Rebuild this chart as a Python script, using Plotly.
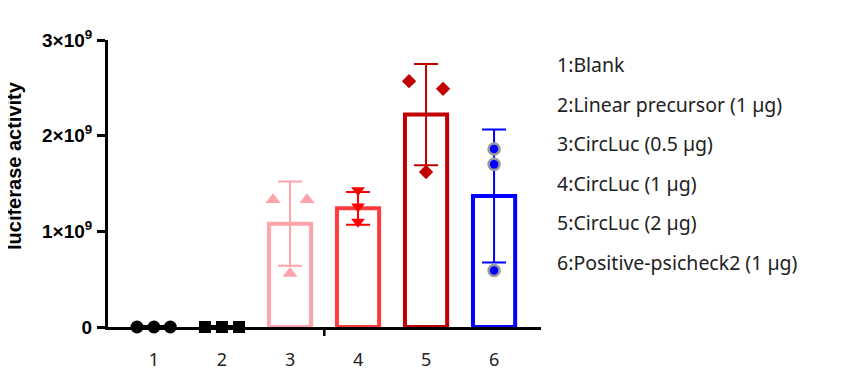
import plotly.graph_objects as go

# ---- data ----
groups = [1, 2, 3, 4, 5, 6]
group_labels = ["1", "2", "3", "4", "5", "6"]
means = [0, 0, 1.08e9, 1.24e9, 2.22e9, 1.37e9]
sds = [0, 0, 0.44e9, 0.17e9, 0.53e9, 0.695e9]
rep_g1 = [0, 0, 0]
rep_g2 = [0, 0, 0]
rep_g3 = [1.33e9, 1.33e9, 0.56e9]
rep_g4 = [1.43e9, 1.26e9, 1.10e9]
rep_g5 = [2.57e9, 2.49e9, 1.62e9]
rep_g6 = [1.86e9, 1.70e9, 0.59e9]
legend_lines = ["1:Blank", "2:Linear precursor (1 µg)", "3:CircLuc (0.5 µg)",
                "4:CircLuc (1 µg)", "5:CircLuc (2 µg)", "6:Positive-psicheck2 (1 µg)"]
ytick_vals = [0, 1e9, 2e9, 3e9]
ytick_text = ["0", "1×10<sup>9</sup>", "2×10<sup>9</sup>", "3×10<sup>9</sup>"]

# ---- style ----
colors = ["#000000", "#000000", "#FFA3AA", "#FF3B3B", "#C00000", "#0000FF"]
point_colors = ["#000000", "#000000", "#FFA3AA", "#FF0000", "#C00000", "#0000FF"]
symbols = ["circle", "square", "triangle-up", "triangle-down", "diamond", "circle"]
sizes = [13, 12, 13, 12, 11, 11]
line_colors = ["#000000", "#000000", "#FFA3AA", "#FF0000", "#C00000", "#999999"]
line_widths = [0, 0, 0, 0, 0, 2.5]
jitter = [[-0.25, 0.0, 0.24], [-0.25, 0.0, 0.25], [-0.25, 0.25, 0.0],
          [0, 0, 0], [-0.25, 0.25, 0.0], [0, 0, 0]]
reps = [rep_g1, rep_g2, rep_g3, rep_g4, rep_g5, rep_g6]

OFF = 8  # page body margin
W, H = 860 - 2 * OFF, 381 - 2 * OFF
L, T, PLOT_W, PLOT_H = 108 - OFF, 40 - OFF, 433, 287
fig = go.Figure()
for i, g in enumerate(groups):
    fig.add_trace(go.Bar(
        x=[g], y=[means[i]], width=0.62,
        marker=dict(color="rgba(255,255,255,0)", line=dict(color=colors[i], width=4)),
        error_y=dict(type="data", array=[sds[i]], visible=sds[i] > 0,
                     color=colors[i] if i != 3 else "#FF0000", thickness=2, width=12),
        showlegend=False, hoverinfo="skip"))
for i, g in enumerate(groups):
    fig.add_trace(go.Scatter(
        x=[g + d for d in jitter[i]], y=reps[i], mode="markers",
        marker=dict(symbol=symbols[i], size=sizes[i], color=point_colors[i],
                    line=dict(color=line_colors[i], width=line_widths[i])),
        showlegend=False, cliponaxis=False))

fig.update_layout(
    width=W, height=H,
    margin=dict(l=L, r=W - L - PLOT_W, t=T, b=H - T - PLOT_H),
    paper_bgcolor="white", plot_bgcolor="white",
    barmode="overlay",
    xaxis=dict(range=[0.324, 6.69], tickvals=groups, ticktext=group_labels,
               automargin=False,
               showgrid=False, zeroline=False, showline=True, linecolor="black",
               linewidth=3, ticks="", ticklabelstandoff=14,
               tickfont=dict(family="Noto Sans", size=18, color="#222222")),
    yaxis=dict(range=[0, 3e9], tickvals=ytick_vals, ticktext=ytick_text,
               automargin=False,
               showgrid=False, zeroline=False, showline=True, linecolor="black",
               linewidth=3, ticks="outside", ticklen=8, tickwidth=2.5, tickcolor="black",
               ticklabelstandoff=1,
               tickfont=dict(family="Liberation Sans", size=19, color="black", weight="bold")),
)
# middle x-axis tick (Prism style)
fig.add_shape(type="line", xref="paper", yref="paper", x0=0.4995, x1=0.4995,
              y0=0, y1=-9 / PLOT_H, line=dict(color="black", width=2.5))
# y axis title
fig.add_annotation(text="<b>luciferase activity</b>", xref="paper", yref="paper",
                   x=(14 - 108) / PLOT_W, xanchor="center", y=(327 - 166) / PLOT_H,
                   textangle=-90, showarrow=False,
                   font=dict(family="Liberation Sans", size=20, color="black"))
# legend text
for k, t in enumerate(legend_lines):
    fig.add_annotation(text=t, xref="paper", yref="paper", x=(555 - 108) / PLOT_W, xanchor="left",
                       y=(327 - (65 + 39.4 * k)) / PLOT_H, yanchor="middle", showarrow=False,
                       font=dict(family="Noto Sans", size=19.5, color="#222222"))

fig.write_html("out.html")
